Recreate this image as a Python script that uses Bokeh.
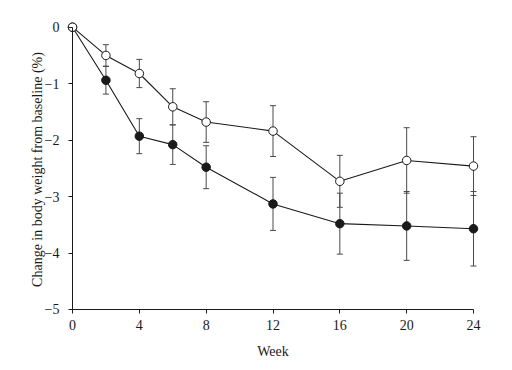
from bokeh.plotting import figure
from bokeh.models import ColumnDataSource, FixedTicker, Range1d, Whisker, TeeHead, LinearAxis
from bokeh.embed import file_html
from bokeh.resources import INLINE

weeks = [0, 2, 4, 6, 8, 12, 16, 20, 24]
open_mean = [0, -0.50, -0.82, -1.41, -1.68, -1.84, -2.73, -2.36, -2.46]
open_se = [0, 0.19, 0.25, 0.32, 0.36, 0.45, 0.46, 0.58, 0.52]
filled_mean = [0, -0.94, -1.93, -2.08, -2.48, -3.13, -3.48, -3.52, -3.57]
filled_se = [0, 0.245, 0.31, 0.35, 0.38, 0.47, 0.54, 0.61, 0.66]

x_ticks = [0, 4, 8, 12, 16, 20, 24]
y_ticks = [0, -1, -2, -3, -4, -5]
y_tick_labels = ["0", "\u22121", "\u22122", "\u22123", "\u22124", "\u22125"]
x_title = "Week"
y_title = "Change in body weight from baseline (%)"

FONT = "Liberation Serif"
INK = "#1a1a1a"
BAR = "#4a4a4a"

p = figure(width=504, height=362, output_backend="svg", toolbar_location=None,
           x_range=Range1d(-1.676, 25.676), y_range=Range1d(-5.514, 0.473),
           min_border_left=44, min_border_right=3, min_border_top=0, min_border_bottom=24)
p.outline_line_color = None
p.xgrid.visible = False
p.ygrid.visible = False
p.background_fill_color = "white"
p.border_fill_color = "white"

def make_src(mean, se):
    return ColumnDataSource(dict(
        x=weeks, y=mean,
        lo=[m - s for m, s in zip(mean, se)],
        hi=[m + s for m, s in zip(mean, se)]))

src_f = make_src(filled_mean, filled_se)
src_o = make_src(open_mean, open_se)

for src in (src_f, src_o):
    w = Whisker(base="x", lower="lo", upper="hi", source=src,
                line_color=BAR, line_width=1,
                upper_head=TeeHead(size=6, line_color=BAR, line_width=1),
                lower_head=TeeHead(size=6, line_color=BAR, line_width=1))
    p.add_layout(w)

p.line("x", "y", source=src_f, line_color=INK, line_width=1.1)
p.line("x", "y", source=src_o, line_color=INK, line_width=1.1)
p.scatter("x", "y", source=src_f, size=8.5, fill_color=INK, line_color=INK, line_width=1)
p.scatter("x", "y", source=src_o, size=8.5, fill_color="white", line_color=INK, line_width=1)

# main axes drawn through the data origin
p.xaxis.fixed_location = -5
p.yaxis.fixed_location = 0
p.xaxis.bounds = (0, 24)
p.yaxis.bounds = (-5, 0)
p.xaxis.ticker = FixedTicker(ticks=x_ticks)
p.yaxis.ticker = FixedTicker(ticks=y_ticks)
p.yaxis.major_label_overrides = {t: l for t, l in zip(y_ticks, y_tick_labels)}

for ax in (p.xaxis, p.yaxis):
    ax.axis_line_color = INK
    ax.axis_line_width = 1
    ax.major_tick_line_color = INK
    ax.major_tick_in = 0
    ax.major_tick_out = 4
    ax.minor_tick_line_color = None
    ax.major_label_text_font = FONT
    ax.major_label_text_font_size = "14px"
    ax.major_label_text_color = INK
p.xaxis.major_label_standoff = 7
p.yaxis.major_label_standoff = 9

# axes carrying only the titles, in the side panels
def title_axis(text, standoff):
    ax = LinearAxis(ticker=FixedTicker(ticks=[]), axis_label=text,
                    axis_line_color=None, major_tick_line_color=None,
                    minor_tick_line_color=None, major_tick_out=0, major_tick_in=0,
                    major_label_standoff=0, axis_label_standoff=standoff,
                    axis_label_text_font=FONT, axis_label_text_font_size="14px",
                    axis_label_text_font_style="normal", axis_label_text_color=INK)
    return ax

p.add_layout(title_axis(y_title, 0), "left")
p.add_layout(title_axis(x_title, 5), "below")

open("out.html", "w").write(file_html(p, INLINE))
